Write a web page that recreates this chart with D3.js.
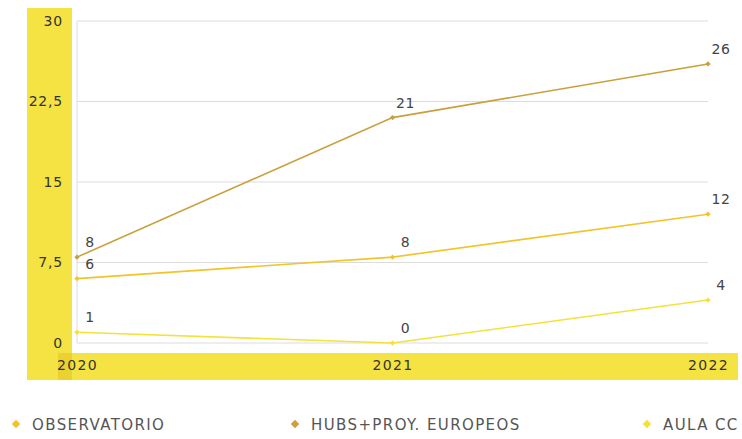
<!DOCTYPE html>
<html>
<head>
<meta charset="utf-8">
<script src="https://cdn.jsdelivr.net/npm/d3@7"></script>
<style>
  body { margin: 0; background: #fff; }
</style>
</head>
<body>
<div id="chart"></div>
<script>
// Data
const years = ["2020", "2021", "2022"];
const observatorio = [6, 8, 12];
const hubs = [8, 21, 26];
const aulaCC = [1, 0, 4];
const yTicks = [0, 7.5, 15, 22.5, 30];
const seriesNames = ["OBSERVATORIO", "HUBS+PROY. EUROPEOS", "AULA CC"];

const colors = ["#f2c42a", "#c9a03c", "#f4e23c"];
const series = [observatorio, hubs, aulaCC];

const W = 742, H = 439;
const margin = { top: 21, right: 34, bottom: 96, left: 77 },
    width = W - margin.left - margin.right,
    height = H - margin.top - margin.bottom;

const svg = d3.select("#chart")
  .append("svg")
    .attr("width", W)
    .attr("height", H)
    .style("font-family", "'DejaVu Sans', sans-serif");

// Yellow bands (left axis band, bottom axis band, and their overlap)
svg.append("rect").attr("x", 27).attr("y", 8).attr("width", 45).attr("height", 372).attr("fill", "#f5e344");
svg.append("rect").attr("x", 58).attr("y", 353).attr("width", 680).attr("height", 27).attr("fill", "#f5e344");
svg.append("rect").attr("x", 58).attr("y", 353).attr("width", 14).attr("height", 27).attr("fill", "#ebd231");

const g = svg.append("g")
    .attr("transform", `translate(${margin.left},${margin.top})`);

const x = d3.scalePoint()
  .domain(years)
  .range([0, width]);

const y = d3.scaleLinear()
  .domain([0, 30])
  .range([height, 0]);

// Gridlines
g.selectAll(".grid")
  .data(yTicks)
  .enter()
  .append("line")
    .attr("x1", 0)
    .attr("x2", width)
    .attr("y1", d => y(d))
    .attr("y2", d => y(d))
    .attr("stroke", "#dcdcdc")
    .attr("stroke-width", 1);

g.append("line")
  .attr("x1", 0).attr("x2", 0)
  .attr("y1", 0).attr("y2", height)
  .attr("stroke", "#dcdcdc");

// Y axis labels
const yAxis = g.append("g")
  .attr("transform", "translate(-14,0)")
  .call(d3.axisLeft(y).tickValues(yTicks).tickSize(0).tickPadding(0)
    .tickFormat(d => String(d).replace(".", ",")));
yAxis.select(".domain").remove();
yAxis.selectAll("text")
  .style("font-size", "14px")
  .style("font-family", "'DejaVu Sans', sans-serif")
  .style("letter-spacing", "0.8px")
  .attr("fill", "#333");

// X axis labels
const xAxis = g.append("g")
  .attr("transform", `translate(0,${height})`)
  .call(d3.axisBottom(x).tickSize(0).tickPadding(17));
xAxis.select(".domain").remove();
xAxis.selectAll("text")
  .style("font-size", "14px")
  .style("font-family", "'DejaVu Sans', sans-serif")
  .style("letter-spacing", "1.3px")
  .attr("fill", "#333");

// Lines
const line = d3.line()
  .x((d, i) => x(years[i]))
  .y(d => y(d));

const diamond = d3.symbol(d3.symbolSquare, 14);

series.forEach((s, k) => {
  g.append("path")
    .datum(s)
    .attr("fill", "none")
    .attr("stroke", colors[k])
    .attr("stroke-width", 1.6)
    .attr("d", line);

  g.selectAll(".pt" + k)
    .data(s)
    .enter()
    .append("path")
      .attr("d", diamond)
      .attr("transform", (d, i) => `translate(${x(years[i])},${y(d)}) rotate(45)`)
      .attr("fill", colors[k]);

  g.selectAll(".lbl" + k)
    .data(s)
    .enter()
    .append("text")
      .attr("x", (d, i) => x(years[i]) + 13)
      .attr("y", d => y(d) - 10)
      .attr("text-anchor", "middle")
      .style("font-size", "14px")
      .style("letter-spacing", "0.5px")
      .attr("fill", "#444")
      .text(d => d);
});

// Legend
const legendX = [16, 295, 647];
const legend = svg.selectAll(".legend")
  .data(seriesNames)
  .enter()
  .append("g")
    .attr("transform", (d, i) => `translate(${legendX[i]},424)`);

legend.append("path")
  .attr("d", d3.symbol(d3.symbolSquare, 36))
  .attr("transform", "rotate(45)")
  .attr("fill", (d, i) => colors[i]);

legend.append("text")
  .attr("x", 16)
  .attr("y", 5.5)
  .style("font-size", "15px")
  .style("letter-spacing", "1.4px")
  .attr("fill", "#555")
  .text(d => d);
</script>
</body>
</html>
